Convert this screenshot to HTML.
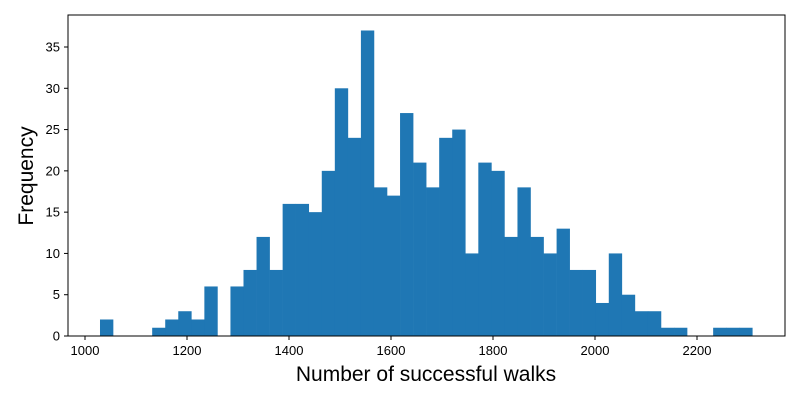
<!DOCTYPE html>
<html><head><meta charset="utf-8"><style>
body{margin:0;background:#fff;font-family:"Liberation Sans","DejaVu Sans",sans-serif;}
</style></head><body>
<svg width="800" height="400" xmlns="http://www.w3.org/2000/svg">
<g id="bars"></g>
<rect x="68" y="15" width="717" height="321" fill="none" stroke="#000" stroke-width="1"/>
<g id="xt"></g>
<g id="yt"></g>
<text x="426" y="381" font-size="21" text-anchor="middle">Number of successful walks</text>
<text x="33" y="176" font-size="21" text-anchor="middle" transform="rotate(-90 33 176)">Frequency</text>
</svg>
<script>
const binStart = 1029.4;
const binWidth = 25.58;
const counts = [2,0,0,0,1,2,3,2,6,0,6,8,12,8,16,16,15,20,30,24,37,18,17,27,21,18,24,25,10,21,20,12,18,12,10,13,8,8,4,10,5,3,3,1,1,0,0,1,1,1];
const xTicks = [1000,1200,1400,1600,1800,2000,2200];
const yTicks = [0,5,10,15,20,25,30,35];
const NS="http://www.w3.org/2000/svg";
const xs = v => 85 + (v-1000)*0.51;
const ys = v => 336 - v*8.257;
const bars=document.getElementById('bars');
counts.forEach((c,i)=>{
  if(!c) return;
  const r=document.createElementNS(NS,'rect');
  const x0=xs(binStart+i*binWidth), x1=xs(binStart+(i+1)*binWidth);
  r.setAttribute('x',x0);r.setAttribute('width',x1-x0+0.3);
  r.setAttribute('y',ys(c));r.setAttribute('height',336-ys(c));
  r.setAttribute('fill','#1f77b4');
  
  
  bars.appendChild(r);
});
const xt=document.getElementById('xt');
xTicks.forEach(v=>{
  const l=document.createElementNS(NS,'line');
  l.setAttribute('x1',xs(v));l.setAttribute('x2',xs(v));l.setAttribute('y1',336);l.setAttribute('y2',340);l.setAttribute('stroke','#000');
  
  
  xt.appendChild(l);
  const t=document.createElementNS(NS,'text');
  t.setAttribute('x',xs(v));t.setAttribute('y',355);t.setAttribute('font-size','13');t.setAttribute('text-anchor','middle');
  t.textContent=v;
  
  
  xt.appendChild(t);
});
const yt=document.getElementById('yt');
yTicks.forEach(v=>{
  const l=document.createElementNS(NS,'line');
  l.setAttribute('x1',64);l.setAttribute('x2',68);l.setAttribute('y1',ys(v));l.setAttribute('y2',ys(v));l.setAttribute('stroke','#000');
  
  
  yt.appendChild(l);
  const t=document.createElementNS(NS,'text');
  t.setAttribute('x',60);t.setAttribute('y',ys(v)+4.5);t.setAttribute('font-size','13');t.setAttribute('text-anchor','end');
  t.textContent=v;
  
  
  yt.appendChild(t);
});
</script>
</body></html>
